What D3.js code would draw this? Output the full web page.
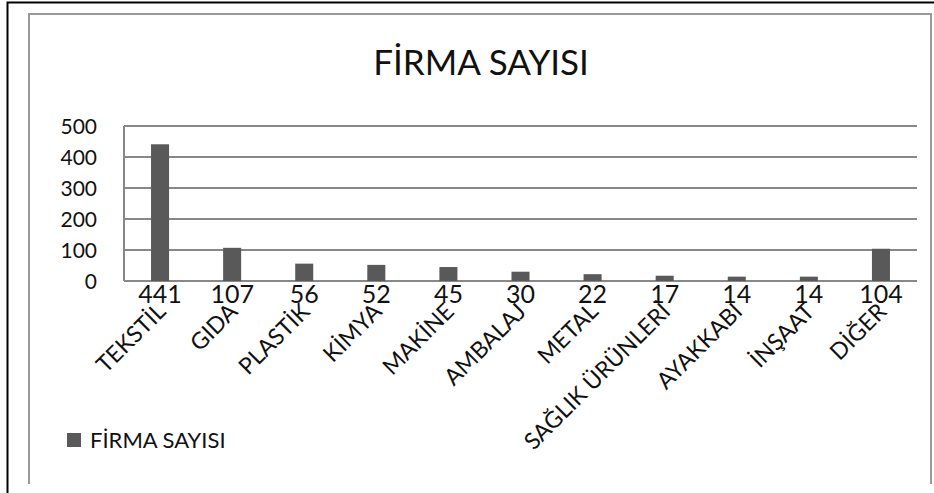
<!DOCTYPE html>
<html>
<head>
<meta charset="utf-8">
<script src="https://cdn.jsdelivr.net/npm/d3@7"></script>
<style>
    body { margin: 0; background: #fff; }
    svg text { font-family: Lato, "Noto Sans", sans-serif; fill: #111; }
</style>
</head>
<body>
<div id="container"></div>
<script>
// data
const categories = ["TEKSTİL", "GIDA", "PLASTİK", "KİMYA", "MAKİNE", "AMBALAJ",
    "METAL", "SAĞLIK ÜRÜNLERİ", "AYAKKABI", "İNŞAAT", "DİĞER"];
const firmaSayisi = [441, 107, 56, 52, 45, 30, 22, 17, 14, 14, 104];
const yTicks = [0, 100, 200, 300, 400, 500];
const seriesName = "FİRMA SAYISI";
const chartTitle = "FİRMA SAYISI";

// constants
const WIDTH = 934;
const HEIGHT = 493;
const LEFT = 124, RIGHT = 917, TOP = 126, BOTTOM = 281;
const BAR_COLOR = "#595959";
const GRID_COLOR = "#888";

const canvas = d3.select("#container")
    .append("svg")
    .attr("width", WIDTH)
    .attr("height", HEIGHT);

// outer black frame (top + left)
canvas.append("path")
    .attr("d", "M7.5,493 V2.5 H934")
    .attr("fill", "none")
    .attr("stroke", "#000")
    .attr("stroke-width", 2);

// inner gray chart frame
canvas.append("path")
    .attr("d", "M29,484 V14 H931 V484")
    .attr("fill", "none")
    .attr("stroke", "#999")
    .attr("stroke-width", 2);

const xScale = d3.scaleBand()
    .domain(categories)
    .range([LEFT, RIGHT])
    .paddingInner(0.75)
    .paddingOuter(0.375);

const yScale = d3.scaleLinear()
    .domain([0, 500])
    .range([BOTTOM, TOP]);

// gridlines
canvas.append("g")
    .selectAll("line")
    .data(yTicks)
    .enter()
    .append("line")
    .attr("x1", LEFT)
    .attr("x2", RIGHT)
    .attr("y1", (d) => yScale(d))
    .attr("y2", (d) => yScale(d))
    .attr("stroke", GRID_COLOR)
    .attr("stroke-width", 2);

// left axis line
canvas.append("line")
    .attr("x1", LEFT).attr("x2", LEFT)
    .attr("y1", yScale(500)).attr("y2", yScale(0))
    .attr("stroke", GRID_COLOR)
    .attr("stroke-width", 2);

// y tick labels
const leftAxis = d3.axisLeft(yScale)
    .tickValues(yTicks)
    .tickSize(0)
    .tickPadding(27);

const yAxisG = canvas.append("g")
    .attr("transform", "translate(" + LEFT + ",0)")
    .call(leftAxis);
yAxisG.select(".domain").remove();
yAxisG.selectAll("text")
    .style("font-size", "21px")
    .attr("dy", "0.35em");

// bars
canvas.append("g")
    .selectAll("rect")
    .data(firmaSayisi)
    .enter()
    .append("rect")
    .attr("x", (d, i) => xScale(categories[i]))
    .attr("y", (d) => yScale(d))
    .attr("width", xScale.bandwidth())
    .attr("height", (d) => yScale(0) - yScale(d))
    .attr("fill", BAR_COLOR);

// value labels under the axis
canvas.append("g")
    .selectAll("text")
    .data(firmaSayisi)
    .enter()
    .append("text")
    .attr("x", (d, i) => xScale(categories[i]) + xScale.bandwidth() / 2)
    .attr("y", 303)
    .attr("text-anchor", "middle")
    .style("font-size", "25px")
    .text((d) => d);

// rotated category labels
canvas.append("g")
    .selectAll("text")
    .data(categories)
    .enter()
    .append("text")
    .attr("transform", (d) => {
        const cx = xScale(d) + xScale.bandwidth() / 2 + 7;
        return "translate(" + cx + ",313) rotate(-45)";
    })
    .attr("text-anchor", "end")
    .style("font-size", "23px")
    .text((d) => d);

// title
canvas.append("text")
    .attr("x", 481)
    .attr("y", 75)
    .attr("text-anchor", "middle")
    .style("font-size", "35px")
    .text(chartTitle);

// legend
canvas.append("rect")
    .attr("x", 67).attr("y", 433)
    .attr("width", 14).attr("height", 14)
    .attr("fill", BAR_COLOR);
canvas.append("text")
    .attr("x", 90).attr("y", 448)
    .style("font-size", "22px")
    .text(seriesName);
</script>
</body>
</html>
